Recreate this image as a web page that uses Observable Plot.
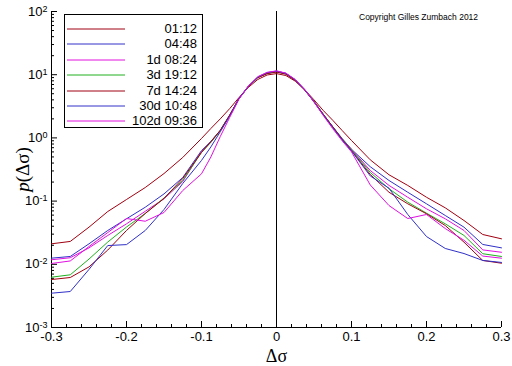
<!DOCTYPE html>
<html><head><meta charset="utf-8">
<script src="https://cdn.jsdelivr.net/npm/d3@7"></script>
<script src="https://cdn.jsdelivr.net/npm/@observablehq/plot@0.6"></script>
<style>
body{margin:0;background:#fff;}
#wrap{position:relative;width:512px;height:366px;font-family:"Liberation Sans",Arial,sans-serif;}
#legend{position:absolute;left:64px;top:14px;width:139px;height:114px;box-sizing:border-box;border:1px solid #000;background:#fff;padding-top:6px;}
.row{position:relative;height:15.4px;display:flex;align-items:center;}
.row svg{position:absolute;left:2px;top:7px;}
.row span{position:absolute;right:5px;font-size:13px;line-height:15.4px;color:#000;}
#copy{position:absolute;left:359px;top:12px;font-size:8.5px;color:#000;white-space:nowrap;}
</style>
</head><body>
<div id="wrap"><div id="chart"></div><div id="legend"></div><div id="copy">Copyright Gilles Zumbach 2012</div></div>
<script>
// x grid (Δσ)
const X = [-0.3,-0.275,-0.25,-0.225,-0.2,-0.175,-0.15,-0.125,-0.1,-0.0875,-0.075,-0.0625,-0.05,-0.0375,-0.025,-0.0125,0,0.0125,0.025,0.0375,0.05,0.0625,0.075,0.0875,0.1,0.125,0.15,0.175,0.2,0.225,0.25,0.275,0.3];

const labels = ["01:12","04:48","1d 08:24","3d 19:12","7d 14:24","30d 10:48","102d 09:36"];
const colors = ["#a00010","#3030c8","#e010e0","#20b020","#a00010","#3030c8","#e010e0"];

const p0112 = [0.0211,0.0230,0.0387,0.0684,0.106,0.164,0.273,0.49,0.98,1.41,2.0,2.9,4.35,6.3,8.4,9.9,10.4,9.7,7.9,5.8,4.0,2.7,1.9,1.31,0.91,0.45,0.261,0.177,0.115,0.0783,0.0493,0.0296,0.0253];
const p0448 = [0.0125,0.0133,0.0211,0.0343,0.0525,0.080,0.130,0.236,0.63,0.88,1.31,2.26,4.2,6.5,9.0,10.5,11.2,10.3,8.25,5.8,3.8,2.35,1.5,0.98,0.66,0.35,0.212,0.138,0.0906,0.0592,0.0387,0.0206,0.0182];
const p1d   = [0.0118,0.0127,0.0182,0.0286,0.0437,0.069,0.109,0.204,0.61,0.86,1.30,2.25,4.25,6.6,9.1,10.7,11.4,10.5,8.3,5.8,3.75,2.3,1.48,0.96,0.66,0.305,0.177,0.115,0.0755,0.0525,0.0343,0.0169,0.0155];
const p3d   = [0.00625,0.00682,0.0121,0.0225,0.0389,0.0637,0.112,0.212,0.59,0.85,1.3,2.25,4.2,6.5,9.0,10.5,11.2,10.3,8.2,5.8,3.8,2.35,1.5,0.96,0.65,0.284,0.157,0.0962,0.0644,0.0437,0.0286,0.0147,0.0133];
const p7d   = [0.00574,0.00618,0.0091,0.0168,0.0343,0.0637,0.11,0.228,0.59,0.87,1.32,2.3,4.2,6.5,9.0,10.4,11.0,10.2,8.1,5.7,3.75,2.35,1.5,0.95,0.63,0.264,0.138,0.0906,0.063,0.0411,0.0224,0.0115,0.0104];
const p30d  = [0.00349,0.00371,0.0083,0.0198,0.0205,0.0343,0.0736,0.19,0.44,0.72,1.25,2.2,4.2,6.6,9.2,10.8,11.4,10.5,8.3,5.8,3.7,2.3,1.45,0.93,0.62,0.25,0.16,0.0614,0.0275,0.0178,0.0148,0.0115,0.0107];
const p102d = [0.0103,0.0113,0.0191,0.0318,0.053,0.048,0.066,0.147,0.27,0.5,1.05,2.1,4.1,6.6,9.3,10.9,11.5,10.6,8.4,5.9,3.7,2.25,1.4,0.9,0.6,0.18,0.085,0.053,0.0614,0.0368,0.024,0.0135,0.0125];
const allSeries = [p0112,p0448,p1d,p3d,p7d,p30d,p102d];

// ticks
const xMajor = [-0.3,-0.2,-0.1,0,0.1,0.2,0.3];
const xMinor = d3.range(-0.3,0.30001,0.02);
const yMajor = [1e-3,1e-2,1e-1,1,10,100];
const yMinor = yMajor.slice(0,-1).flatMap(d => [2,3,4,5,6,7,8,9].map(k => k*d));

const lines = allSeries.map((vals,i) =>
  Plot.line(X.map((x,j)=>[x, vals[j]]), {stroke: colors[i], strokeWidth: 1}));

const chart = Plot.plot({
  width: 512, height: 366,
  marginLeft: 51, marginRight: 11, marginTop: 11, marginBottom: 39,
  style: {fontFamily: "'Liberation Sans', Arial, sans-serif", fontSize: "13px", background: "#fff", color: "#000"},
  x: {domain: [-0.3, 0.3]},
  y: {type: "log", domain: [1e-3, 1e2]},
  marks: [
    Plot.axisX(xMinor, {tickSize: -3, tickFormat: () => "", label: null}),
    Plot.axisX(xMajor, {tickSize: -6, tickFormat: () => "", label: null}),
    Plot.axisX(xMajor, {tickSize: 0, tickPadding: 4, tickFormat: d => String(+d.toFixed(1)),
      label: "Δσ", labelAnchor: "center", labelOffset: 34, labelArrow: "none"}),
    Plot.axisY(yMinor, {tickSize: -3, tickFormat: () => "", label: null}),
    Plot.axisY(yMajor, {tickSize: -6, tickFormat: () => "", label: null}),
    Plot.axisY(yMajor, {tickSize: 0, tickPadding: 4, tickFormat: d => "E" + Math.round(Math.log10(d)),
      label: "p(Δσ)", labelAnchor: "center", labelOffset: 36, labelArrow: "none"}),
    Plot.ruleX([-0.3], {stroke: "#000"}),
    Plot.ruleY([1e-3], {stroke: "#000"}),
    Plot.ruleX([0], {stroke: "#000"}),
    ...lines
  ]
});
document.getElementById("chart").appendChild(chart);

// superscript exponents on y tick labels
chart.querySelectorAll('g[aria-label="y-axis tick label"] text').forEach(t => {
  const s = t.textContent;
  if (s.startsWith("E")) {
    const e = s.slice(1);
    t.innerHTML = `10<tspan dy="-0.45em" font-size="9px">${e}</tspan>`;
  }
});
const yl = chart.querySelector('g[aria-label="y-axis label"] text');
if (yl) { yl.innerHTML = '<tspan font-style="italic">p</tspan>(Δσ)'; yl.setAttribute("font-family","'Liberation Serif', serif"); yl.setAttribute("font-size","19px"); }
const xl = chart.querySelector('g[aria-label="x-axis label"] text');
if (xl) { xl.setAttribute("font-family","'Liberation Serif', serif"); xl.setAttribute("font-size","18px"); }

// legend
const leg = document.getElementById("legend");
labels.forEach((lab,i) => {
  const r = document.createElement("div");
  r.className = "row";
  r.innerHTML = `<svg width="58" height="2"><line x1="0" x2="58" y1="1" y2="1" stroke="${colors[i]}" stroke-width="1"/></svg><span>${lab}</span>`;
  leg.appendChild(r);
});
</script>
</body></html>
